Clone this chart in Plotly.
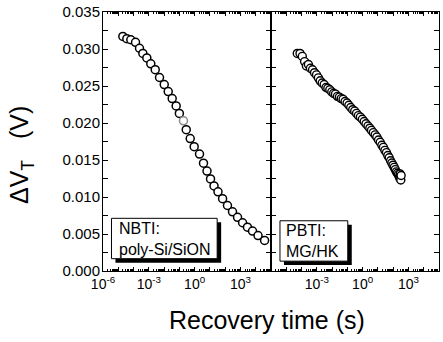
import numpy as np
import plotly.graph_objects as go

# NBTI on poly-Si/SiON: log10 of recovery time (s) and threshold-voltage shift (V)
nbti_log_t = [-4.70, -4.44, -4.18, -3.87, -3.61, -3.39, -3.13, -2.87, -2.58, -2.30,
              -1.99, -1.73, -1.47, -1.21, -1.00, -0.73, -0.55, -0.29, -0.03, 0.32,
              0.58, 0.81, 1.04, 1.27, 1.53, 1.83, 2.15, 2.48, 2.81, 3.14,
              3.46, 3.79, 4.15, 4.58]
nbti_dvt = [0.0317, 0.0314, 0.03125, 0.0309, 0.0301, 0.0294, 0.0288, 0.0280, 0.0272, 0.02615,
            0.0252, 0.02425, 0.0233, 0.0223, 0.0213, 0.0203, 0.0191, 0.0179, 0.0168, 0.0158,
            0.01457, 0.0135, 0.01244, 0.0115, 0.0107, 0.00978, 0.00885, 0.00799, 0.00725, 0.00652,
            0.00592, 0.00539, 0.00479, 0.00413]

# PBTI on MG/HK
pbti_log_t = [-4.28, -4.10, -3.95, -3.80, -3.68, -3.55, -3.42, -3.28, -3.15, -3.02,
              -2.90, -2.78, -2.65, -2.52, -2.40, -2.28, -2.15, -2.02, -1.90, -1.78,
              -1.65, -1.52, -1.40, -1.28, -1.15, -1.02, -0.90, -0.78, -0.65, -0.52,
              -0.40, -0.28, -0.15, -0.02, 0.10, 0.22, 0.35, 0.47, 0.58, 0.70,
              0.82, 0.93, 1.04, 1.15, 1.26, 1.36, 1.46, 1.56, 1.65, 1.74,
              1.83, 1.91, 1.99, 2.07, 2.14, 2.21, 2.28, 2.34, 2.40, 2.45,
              2.50, 2.46, 2.52]
pbti_dvt = [0.0294, 0.0294, 0.0290, 0.0283, 0.0277, 0.0279, 0.0274, 0.0272, 0.0268, 0.0265,
            0.0261, 0.0257, 0.0254, 0.0252, 0.0248, 0.0247, 0.0245, 0.0242, 0.0240, 0.0239,
            0.0236, 0.0235, 0.0233, 0.0232, 0.0229, 0.0227, 0.0224, 0.0221, 0.0218, 0.0216,
            0.0213, 0.0210, 0.0208, 0.0205, 0.0202, 0.0199, 0.0196, 0.0193, 0.0190, 0.0187,
            0.0184, 0.0181, 0.0177, 0.0174, 0.0170, 0.0167, 0.0163, 0.0160, 0.0156, 0.0153,
            0.0149, 0.0146, 0.0143, 0.0140, 0.0137, 0.0134, 0.0132, 0.0130, 0.0127, 0.0125,
            0.0123, 0.0131, 0.0129]

x_label_exps = [-6, -3, 0, 3]
y_tick_vals = [0.000, 0.005, 0.010, 0.015, 0.020, 0.025, 0.030, 0.035]

FONT = "Liberation Sans, Arial, Helvetica, sans-serif"
W, H = 443, 342
ML, MR, MT, MB = 103, 3, 8, 71
PW, PH = W - ML - MR, H - MT - MB


def px(x):
    return (x - ML) / PW


def py(y):
    return (MT + PH - y) / PH


nbti_t = np.power(10.0, nbti_log_t)
pbti_t = np.power(10.0, pbti_log_t)

nbti_edge = ["black"] * len(nbti_t)
nbti_edge[15] = "#8a8a8a"

fig = go.Figure()
fig.add_trace(go.Scatter(
    x=nbti_t, y=nbti_dvt, mode="markers", xaxis="x", yaxis="y",
    marker=dict(symbol="circle", size=8, color="white",
                line=dict(color=nbti_edge, width=1.5)),
    showlegend=False))
fig.add_trace(go.Scatter(
    x=pbti_t, y=pbti_dvt, mode="markers", xaxis="x2", yaxis="y2",
    marker=dict(symbol="circle", size=8, color="white",
                line=dict(color="black", width=1.4)),
    showlegend=False))
# empty traces so the top tick axes get drawn
for xa, ya in (("x3", "y"), ("x4", "y2")):
    fig.add_trace(go.Scatter(x=[None], y=[None], mode="markers", xaxis=xa, yaxis=ya,
                             showlegend=False, hoverinfo="skip"))

decades = list(range(-6, 6))
major_x = [10.0 ** d for d in decades]
minor_x = [m * 10.0 ** d for d in decades[:-1] for m in range(2, 10)]


def x_text(hide_first):
    out = []
    for d in decades:
        if d in x_label_exps and not (hide_first and d == -6):
            out.append("10<sup>%d</sup>" % d)
        else:
            out.append("")
    return out


xcommon = dict(type="log", range=[-6, 5], showline=True, linecolor="black", linewidth=1,
               mirror=True, ticks="inside", ticklen=4, tickwidth=1, tickcolor="black",
               showgrid=False, zeroline=False, tickvals=major_x,
               tickfont=dict(family=FONT, size=14, color="black"),
               minor=dict(tickvals=minor_x, ticks="inside", ticklen=2, tickwidth=1,
                          tickcolor="black", showgrid=False))
ycommon = dict(range=[0, 0.035], showline=True, linecolor="black", linewidth=1,
               mirror="allticks", ticks="inside", ticklen=5, tickwidth=1, tickcolor="black",
               showgrid=False, zeroline=False, tickvals=y_tick_vals,
               minor=dict(dtick=0.0025, ticks="inside", ticklen=3, tickwidth=1,
                          tickcolor="black", showgrid=False))

# tick-only copies of the time axes along the top edge of each panel
xtop = dict(type="log", range=[-6, 5], side="top", showline=True, linecolor="black",
            linewidth=1, showticklabels=False,
            ticks="inside", ticklen=4, tickwidth=1, tickcolor="black",
            showgrid=False, zeroline=False, tickvals=major_x,
            minor=dict(tickvals=minor_x, ticks="inside", ticklen=2, tickwidth=1,
                       tickcolor="black", showgrid=False))

fig.update_layout(
    width=W, height=H,
    margin=dict(l=ML, r=MR, t=MT, b=MB, pad=0),
    paper_bgcolor="white", plot_bgcolor="white",
    font=dict(family=FONT, color="black"),
    xaxis=dict(domain=[0, 0.5], anchor="y", ticktext=x_text(False), **xcommon),
    xaxis2=dict(domain=[0.5, 1], anchor="y2", ticktext=x_text(True), **xcommon),
    xaxis3=dict(domain=[0, 0.5], anchor="y", overlaying="x", **xtop),
    xaxis4=dict(domain=[0.5, 1], anchor="y2", overlaying="x2", **xtop),
    yaxis=dict(domain=[0, 1], anchor="x", tickformat=".3f", ticklabeloverflow="allow",
               ticklabelstandoff=-1,
               tickfont=dict(family=FONT, size=15, color="black"), **ycommon),
    yaxis2=dict(domain=[0, 1], anchor="x2", showticklabels=False, **ycommon),
)

# boxed labels with drop shadow
boxes = [
    ((111.5, 217.5, 217.5, 258.5), "NBTI:<br>poly-Si/SiON", 117.0),
    ((280.5, 220.0, 348.5, 261.0), "PBTI:<br>MG/HK", 285.0),
]
for (x0, y0, x1, y1), txt, tx in boxes:
    fig.add_shape(type="rect", xref="paper", yref="paper",
                  x0=px(x0 + 4), x1=px(x1 + 4), y0=py(y1 + 4), y1=py(y0 + 4),
                  fillcolor="black", line=dict(width=0), layer="above")
    fig.add_shape(type="rect", xref="paper", yref="paper",
                  x0=px(x0), x1=px(x1), y0=py(y1), y1=py(y0),
                  fillcolor="white", line=dict(color="black", width=1), layer="above")
    fig.add_annotation(xref="paper", yref="paper", x=px(tx), y=py((y0 + y1) / 2),
                       xanchor="left", yanchor="middle", align="left", showarrow=False,
                       text=txt, font=dict(family=FONT, size=16, color="black"))

# axis titles
fig.add_annotation(xref="paper", yref="paper", x=px(267), y=py(321),
                   xanchor="center", yanchor="middle", showarrow=False,
                   text="Recovery time (s)", font=dict(family=FONT, size=25, color="black"))
fig.add_annotation(xref="paper", yref="paper", x=px(21), y=py(153),
                   xanchor="center", yanchor="middle", showarrow=False, textangle=-90,
                   text="ΔV<sub>T</sub>   (V)", font=dict(family=FONT, size=25, color="black"))

fig.write_html("out.html")
